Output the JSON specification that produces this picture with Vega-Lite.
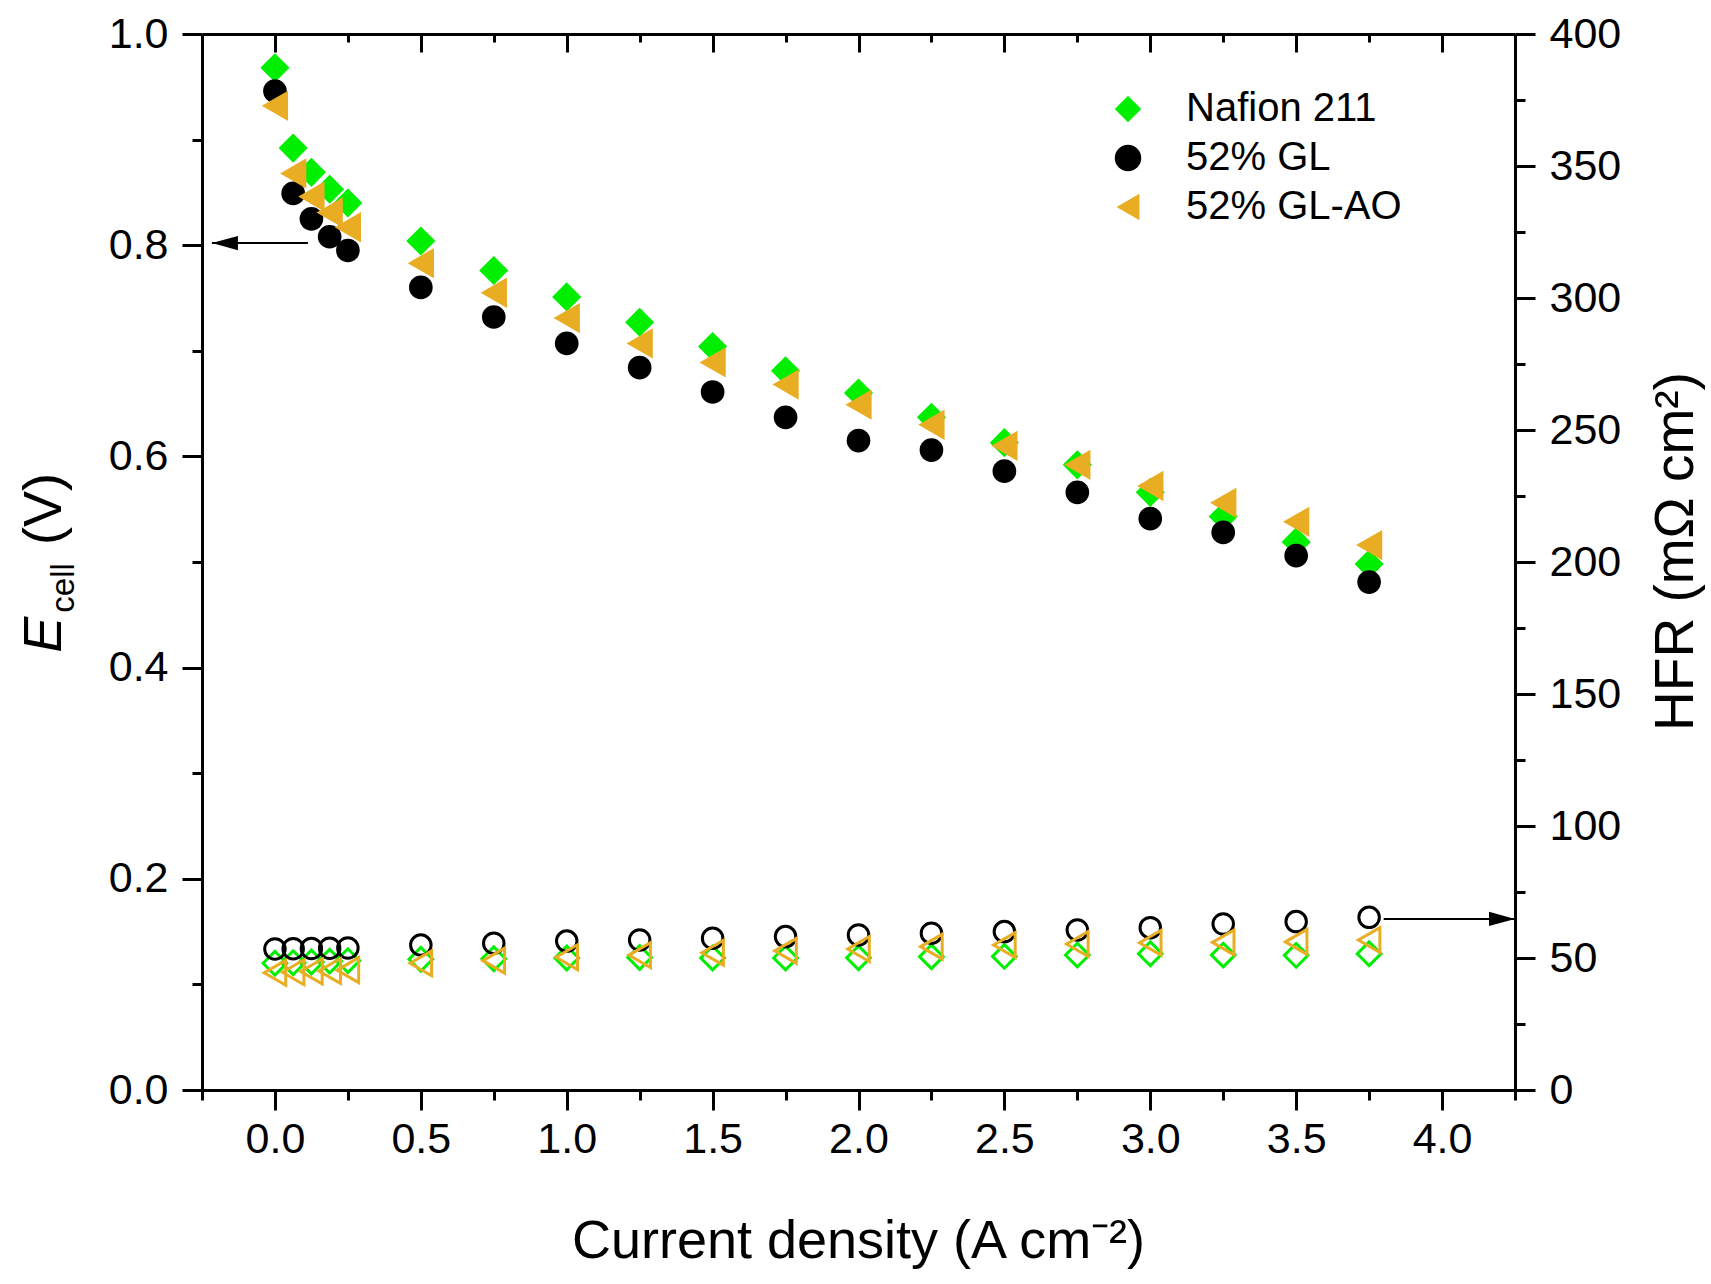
{
  "$schema": "https://vega.github.io/schema/vega-lite/v6.json",
  "width": 1313,
  "height": 1056,
  "autosize": {"type": "none"},
  "padding": {"left": 202, "top": 34, "right": 196, "bottom": 194},
  "background": "white",
  "config": {
    "font": "Liberation Sans",
    "view": {"stroke": null},
    "axis": {
      "grid": false,
      "domainColor": "black",
      "domainWidth": 3,
      "tickColor": "black",
      "tickWidth": 3,
      "labelFont": "Liberation Sans",
      "labelFontSize": 43,
      "labelColor": "black",
      "labelOverlap": false,
      "labelFlush": false,
      "labelBound": false,
      "titleFont": "Liberation Sans",
      "titleFontSize": 54,
      "titleFontWeight": "normal",
      "titleColor": "black"
    },
    "legend": {
      "labelFont": "Liberation Sans",
      "labelFontSize": 40,
      "labelColor": "black",
      "labelLimit": 0
    }
  },
  "datasets": {
    "cell": [
      {"j": 0, "membrane": "Nafion 211", "ecell": 0.968, "hfr": 48.0},
      {"j": 0.0625, "membrane": "Nafion 211", "ecell": 0.892, "hfr": 48.2},
      {"j": 0.125, "membrane": "Nafion 211", "ecell": 0.869, "hfr": 48.5},
      {"j": 0.1875, "membrane": "Nafion 211", "ecell": 0.853, "hfr": 48.8},
      {"j": 0.25, "membrane": "Nafion 211", "ecell": 0.840, "hfr": 49.0},
      {"j": 0.5, "membrane": "Nafion 211", "ecell": 0.804, "hfr": 49.5},
      {"j": 0.75, "membrane": "Nafion 211", "ecell": 0.776, "hfr": 49.7},
      {"j": 1.0, "membrane": "Nafion 211", "ecell": 0.751, "hfr": 50.0},
      {"j": 1.25, "membrane": "Nafion 211", "ecell": 0.727, "hfr": 50.2},
      {"j": 1.5, "membrane": "Nafion 211", "ecell": 0.704, "hfr": 50.0},
      {"j": 1.75, "membrane": "Nafion 211", "ecell": 0.681, "hfr": 50.0},
      {"j": 2.0, "membrane": "Nafion 211", "ecell": 0.660, "hfr": 50.1},
      {"j": 2.25, "membrane": "Nafion 211", "ecell": 0.637, "hfr": 50.5},
      {"j": 2.5, "membrane": "Nafion 211", "ecell": 0.613, "hfr": 50.6},
      {"j": 2.75, "membrane": "Nafion 211", "ecell": 0.592, "hfr": 51.1},
      {"j": 3.0, "membrane": "Nafion 211", "ecell": 0.566, "hfr": 51.6},
      {"j": 3.25, "membrane": "Nafion 211", "ecell": 0.543, "hfr": 51.1},
      {"j": 3.5, "membrane": "Nafion 211", "ecell": 0.519, "hfr": 51.0},
      {"j": 3.75, "membrane": "Nafion 211", "ecell": 0.498, "hfr": 51.6},
      {"j": 0, "membrane": "52% GL", "ecell": 0.946, "hfr": 53.4},
      {"j": 0.0625, "membrane": "52% GL", "ecell": 0.849, "hfr": 53.5},
      {"j": 0.125, "membrane": "52% GL", "ecell": 0.825, "hfr": 53.6},
      {"j": 0.1875, "membrane": "52% GL", "ecell": 0.808, "hfr": 53.7},
      {"j": 0.25, "membrane": "52% GL", "ecell": 0.795, "hfr": 53.8},
      {"j": 0.5, "membrane": "52% GL", "ecell": 0.760, "hfr": 54.9},
      {"j": 0.75, "membrane": "52% GL", "ecell": 0.732, "hfr": 55.6},
      {"j": 1.0, "membrane": "52% GL", "ecell": 0.707, "hfr": 56.4},
      {"j": 1.25, "membrane": "52% GL", "ecell": 0.684, "hfr": 56.8},
      {"j": 1.5, "membrane": "52% GL", "ecell": 0.661, "hfr": 57.5},
      {"j": 1.75, "membrane": "52% GL", "ecell": 0.637, "hfr": 58.1},
      {"j": 2.0, "membrane": "52% GL", "ecell": 0.615, "hfr": 58.7},
      {"j": 2.25, "membrane": "52% GL", "ecell": 0.606, "hfr": 59.4},
      {"j": 2.5, "membrane": "52% GL", "ecell": 0.586, "hfr": 60.0},
      {"j": 2.75, "membrane": "52% GL", "ecell": 0.566, "hfr": 60.6},
      {"j": 3.0, "membrane": "52% GL", "ecell": 0.541, "hfr": 61.5},
      {"j": 3.25, "membrane": "52% GL", "ecell": 0.528, "hfr": 62.9},
      {"j": 3.5, "membrane": "52% GL", "ecell": 0.506, "hfr": 63.8},
      {"j": 3.75, "membrane": "52% GL", "ecell": 0.481, "hfr": 65.4},
      {"j": 0, "membrane": "52% GL-AO", "ecell": 0.932, "hfr": 44.4},
      {"j": 0.0625, "membrane": "52% GL-AO", "ecell": 0.868, "hfr": 44.6},
      {"j": 0.125, "membrane": "52% GL-AO", "ecell": 0.846, "hfr": 44.9},
      {"j": 0.1875, "membrane": "52% GL-AO", "ecell": 0.831, "hfr": 45.1},
      {"j": 0.25, "membrane": "52% GL-AO", "ecell": 0.817, "hfr": 45.4},
      {"j": 0.5, "membrane": "52% GL-AO", "ecell": 0.783, "hfr": 48.0},
      {"j": 0.75, "membrane": "52% GL-AO", "ecell": 0.755, "hfr": 49.0},
      {"j": 1.0, "membrane": "52% GL-AO", "ecell": 0.731, "hfr": 50.3},
      {"j": 1.25, "membrane": "52% GL-AO", "ecell": 0.707, "hfr": 51.1},
      {"j": 1.5, "membrane": "52% GL-AO", "ecell": 0.689, "hfr": 52.0},
      {"j": 1.75, "membrane": "52% GL-AO", "ecell": 0.668, "hfr": 52.7},
      {"j": 2.0, "membrane": "52% GL-AO", "ecell": 0.649, "hfr": 53.4},
      {"j": 2.25, "membrane": "52% GL-AO", "ecell": 0.630, "hfr": 54.3},
      {"j": 2.5, "membrane": "52% GL-AO", "ecell": 0.610, "hfr": 54.9},
      {"j": 2.75, "membrane": "52% GL-AO", "ecell": 0.592, "hfr": 55.3},
      {"j": 3.0, "membrane": "52% GL-AO", "ecell": 0.572, "hfr": 55.8},
      {"j": 3.25, "membrane": "52% GL-AO", "ecell": 0.556, "hfr": 55.9},
      {"j": 3.5, "membrane": "52% GL-AO", "ecell": 0.538, "hfr": 56.1},
      {"j": 3.75, "membrane": "52% GL-AO", "ecell": 0.516, "hfr": 56.8}
    ],
    "arrowE": [{"from": 0.113, "to": -0.216, "level": 0.802}],
    "arrowH": [{"from": 3.80, "to": 4.25, "level": 64.8}],
    "label": [{}]
  },
  "layer": [
    {
      "layer": [
        {
          "data": {"name": "cell"},
          "mark": {"type": "point", "filled": true, "opacity": 1, "strokeWidth": 0},
          "encoding": {
            "x": {
              "field": "j",
              "type": "quantitative",
              "scale": {"domain": [-0.25, 4.25], "nice": false, "zero": false},
              "axis": {
                "orient": "bottom",
                "values": [-0.25, 0, 0.25, 0.5, 0.75, 1, 1.25, 1.5, 1.75, 2, 2.25, 2.5, 2.75, 3, 3.25, 3.5, 3.75, 4, 4.25],
                "labelExpr": "datum.value >= 0 && datum.value <= 4 && datum.value % 0.5 === 0 ? format(datum.value, '.1f') : ''",
                "tickSize": {"condition": {"test": "datum.value % 0.5 === 0", "value": 20}, "value": 10},
                "labelPadding": 8,
                "title": "Current density (A cm⁻²)",
                "titleX": 656,
                "titleY": 167,
                "titleAlign": "center",
                "titleBaseline": "alphabetic"
              }
            },
            "y": {
              "field": "ecell",
              "type": "quantitative",
              "scale": {"domain": [0, 1], "nice": false},
              "axis": {
                "orient": "left",
                "values": [0, 0.1, 0.2, 0.3, 0.4, 0.5, 0.6, 0.7, 0.8, 0.9, 1],
                "labelExpr": "round(datum.value * 10) % 2 === 0 ? format(datum.value, '.1f') : ''",
                "tickSize": {"condition": {"test": "round(datum.value * 10) % 2 === 0", "value": 20}, "value": 10},
                "labelPadding": 14,
                "title": null
              }
            },
            "color": {
              "field": "membrane",
              "type": "nominal",
              "scale": {"domain": ["Nafion 211", "52% GL", "52% GL-AO"], "range": ["#00ee00", "#000000", "#e9ad24"]},
              "legend": {
                "orient": "none",
                "legendX": 906,
                "legendY": 55,
                "title": null,
                "padding": 0,
                "symbolSize": 700,
                "symbolStrokeWidth": 0,
                "rowPadding": 9,
                "labelOffset": 38
              }
            },
            "shape": {
              "field": "membrane",
              "type": "nominal",
              "scale": {"domain": ["Nafion 211", "52% GL", "52% GL-AO"], "range": ["diamond", "circle", "triangle-left"]}
            },
            "size": {
              "field": "membrane",
              "type": "nominal",
              "scale": {"type": "ordinal", "domain": ["Nafion 211", "52% GL", "52% GL-AO"], "range": [850, 560, 920]},
              "legend": null
            }
          }
        },
        {
          "data": {"name": "arrowE"},
          "mark": {"type": "rule", "color": "black", "strokeWidth": 2},
          "encoding": {
            "x": {"field": "from", "type": "quantitative"},
            "x2": {"field": "to"},
            "y": {"field": "level", "type": "quantitative"}
          }
        },
        {
          "data": {"name": "arrowE"},
          "mark": {"type": "point", "filled": true, "color": "black", "opacity": 1, "size": 676, "shape": "M0,0L2,-0.55L2,0.55Z", "strokeWidth": 0},
          "encoding": {
            "x": {"field": "to", "type": "quantitative"},
            "y": {"field": "level", "type": "quantitative"}
          }
        },
        {
          "data": {"name": "label"},
          "mark": {"type": "text", "text": "E", "angle": 270, "align": "left", "baseline": "alphabetic", "fontSize": 54, "fontStyle": "italic", "color": "black"},
          "encoding": {
            "x": {"datum": -0.734, "type": "quantitative"},
            "y": {"datum": 0.414, "type": "quantitative"}
          }
        },
        {
          "data": {"name": "label"},
          "mark": {"type": "text", "text": "cell", "angle": 270, "align": "left", "baseline": "alphabetic", "fontSize": 33, "color": "black"},
          "encoding": {
            "x": {"datum": -0.688, "type": "quantitative"},
            "y": {"datum": 0.452, "type": "quantitative"}
          }
        },
        {
          "data": {"name": "label"},
          "mark": {"type": "text", "text": "(V)", "angle": 270, "align": "left", "baseline": "alphabetic", "fontSize": 54, "color": "black"},
          "encoding": {
            "x": {"datum": -0.734, "type": "quantitative"},
            "y": {"datum": 0.516, "type": "quantitative"}
          }
        }
      ]
    },
    {
      "layer": [
        {
          "data": {"name": "cell"},
          "mark": {"type": "point", "filled": false, "opacity": 1, "strokeWidth": 3},
          "encoding": {
            "x": {
              "field": "j",
              "type": "quantitative",
              "scale": {"domain": [-0.25, 4.25], "nice": false, "zero": false},
              "axis": {
                "orient": "top",
                "values": [0, 0.25, 0.5, 0.75, 1, 1.25, 1.5, 1.75, 2, 2.25, 2.5, 2.75, 3, 3.25, 3.5, 3.75, 4],
                "labels": false,
                "tickSize": {"condition": {"test": "datum.value % 0.5 === 0", "value": -18}, "value": -8},
                "title": null
              }
            },
            "y": {
              "field": "hfr",
              "type": "quantitative",
              "scale": {"domain": [0, 400], "nice": false},
              "axis": {
                "orient": "right",
                "values": [0, 25, 50, 75, 100, 125, 150, 175, 200, 225, 250, 275, 300, 325, 350, 375, 400],
                "labelExpr": "datum.value % 50 === 0 ? datum.label : ''",
                "tickSize": {"condition": {"test": "datum.value % 50 === 0", "value": 20}, "value": 10},
                "labelPadding": 14,
                "title": "HFR (mΩ cm²)",
                "titleAngle": 270,
                "titleX": 177,
                "titleY": 517,
                "titleAlign": "center",
                "titleBaseline": "alphabetic",
                "titleFontSize": 55
              }
            },
            "color": {"field": "membrane", "type": "nominal"},
            "shape": {"field": "membrane", "type": "nominal"},
            "size": {
              "field": "membrane",
              "type": "nominal",
              "scale": {"type": "ordinal", "domain": ["Nafion 211", "52% GL", "52% GL-AO"], "range": [560, 420, 620]},
              "legend": null
            }
          }
        },
        {
          "data": {"name": "arrowH"},
          "mark": {"type": "rule", "color": "black", "strokeWidth": 2},
          "encoding": {
            "x": {"field": "from", "type": "quantitative"},
            "x2": {"field": "to"},
            "y": {"field": "level", "type": "quantitative"}
          }
        },
        {
          "data": {"name": "arrowH"},
          "mark": {"type": "point", "filled": true, "color": "black", "opacity": 1, "size": 676, "shape": "M0,0L-2,-0.55L-2,0.55Z", "strokeWidth": 0},
          "encoding": {
            "x": {"field": "to", "type": "quantitative"},
            "y": {"field": "level", "type": "quantitative"}
          }
        }
      ]
    }
  ],
  "resolve": {"scale": {"y": "independent", "size": "independent"}, "axis": {"x": "independent"}}
}
